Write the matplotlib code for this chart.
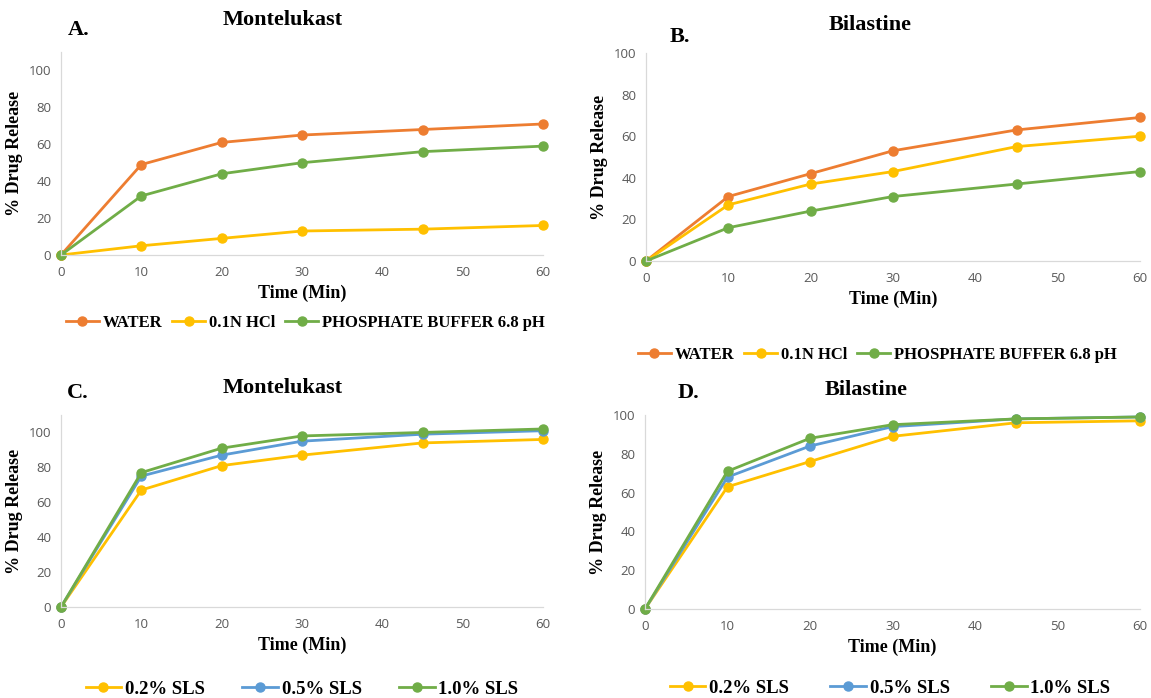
import matplotlib.pyplot as plt
import numpy as np

# time points (min)
time_min = [0, 10, 20, 30, 45, 60]

# A. Montelukast in media
mont_water = [0, 49, 61, 65, 68, 71]
mont_hcl = [0, 5, 9, 13, 14, 16]
mont_phos = [0, 32, 44, 50, 56, 59]

# B. Bilastine in media
bil_water = [0, 31, 42, 53, 63, 69]
bil_hcl = [0, 27, 37, 43, 55, 60]
bil_phos = [0, 16, 24, 31, 37, 43]

# C. Montelukast with SLS
mont_sls02 = [0, 67, 81, 87, 94, 96]
mont_sls05 = [0, 75, 87, 95, 99, 101]
mont_sls10 = [0, 77, 91, 98, 100, 102]

# D. Bilastine with SLS
bil_sls02 = [0, 63, 76, 89, 96, 97]
bil_sls05 = [0, 68, 84, 94, 98, 99]
bil_sls10 = [0, 71, 88, 95, 98, 99]

media_labels = ['WATER', '0.1N HCl', 'PHOSPHATE BUFFER 6.8 pH']
sls_labels = ['0.2% SLS', '0.5% SLS', '1.0% SLS']

ORANGE = '#ED7D31'
GOLD = '#FFC000'
GREEN = '#70AD47'
BLUE = '#5B9BD5'

serif = 'Liberation Serif'
tickfont = 'Open Sans'

W, H = 1151, 698
fig = plt.figure(figsize=(W / 100, H / 100), dpi=100)


def px_axes(x0, x1, y_top, y_bottom):
    return fig.add_axes([x0 / W, 1 - y_bottom / H, (x1 - x0) / W, (y_bottom - y_top) / H])


def style(ax, ymax):
    ax.set_xlim(0, 60)
    ax.set_ylim(0, ymax)
    ax.set_xticks(range(0, 61, 10))
    ax.set_yticks(range(0, 101, 20))
    for s in ['top', 'right']:
        ax.spines[s].set_visible(False)
    for s in ['left', 'bottom']:
        ax.spines[s].set_color('#D9D9D9')
        ax.spines[s].set_linewidth(0.9)
    ax.tick_params(length=0, labelsize=9.5, labelcolor='#595959', pad=8)
    ax.tick_params(axis='y', pad=7)
    for lab in ax.get_xticklabels() + ax.get_yticklabels():
        lab.set_fontfamily(tickfont)
    ax.set_xlabel('Time (Min)', fontfamily=serif, fontweight='bold', fontsize=13, labelpad=4)
    ax.set_ylabel('% Drug Release', fontfamily=serif, fontweight='bold', fontsize=13, labelpad=4)
    ax.patch.set_alpha(0)


def draw(ax, series, colors, labels):
    handles = []
    for ys, c, lab in zip(series, colors, labels):
        h, = ax.plot(time_min, ys, color=c, lw=2, marker='o', ms=6.5, label=lab, clip_on=False)
        handles.append(h)
    return handles


axA = px_axes(61, 543, 52, 255)
hA = draw(axA, [mont_water, mont_hcl, mont_phos], [ORANGE, GOLD, GREEN], media_labels)
style(axA, 110)

axB = px_axes(646, 1140, 53, 261)
hB = draw(axB, [bil_water, bil_hcl, bil_phos], [ORANGE, GOLD, GREEN], media_labels)
style(axB, 100)

axC = px_axes(61, 543, 415, 607)
hC = draw(axC, [mont_sls02, mont_sls05, mont_sls10], [GOLD, BLUE, GREEN], sls_labels)
style(axC, 110)

axD = px_axes(645, 1140, 415, 609)
hD = draw(axD, [bil_sls02, bil_sls05, bil_sls10], [GOLD, BLUE, GREEN], sls_labels)
style(axD, 100)


def ftext(x, y, s, size):
    fig.text(x / W, 1 - y / H, s, fontfamily=serif, fontweight='bold', fontsize=size,
             ha='center', va='center')


ftext(283, 20, 'Montelukast', 16)
ftext(79, 30, 'A.', 16)
ftext(870, 25, 'Bilastine', 16)
ftext(680, 37, 'B.', 16)
ftext(283, 388, 'Montelukast', 16)
ftext(78, 393, 'C.', 16)
ftext(866, 390, 'Bilastine', 16)
ftext(688, 393, 'D.', 16)


def legend(handles, x, y, size, colsp, hl):
    fig.legend(handles=handles, loc='center', bbox_to_anchor=(x / W, 1 - y / H), ncol=3,
               frameon=False, handlelength=hl, handletextpad=0.2, columnspacing=colsp,
               prop={'family': serif, 'weight': 'bold', 'size': size})


legend(hA, 305, 323, 12, 0.6, 2.0)
legend(hB, 877, 355, 12, 0.6, 2.0)
legend(hC, 302, 689, 13.5, 2.0, 1.9)
legend(hD, 890, 688, 13.5, 2.2, 1.9)

fig.savefig('out.png', dpi=100)
